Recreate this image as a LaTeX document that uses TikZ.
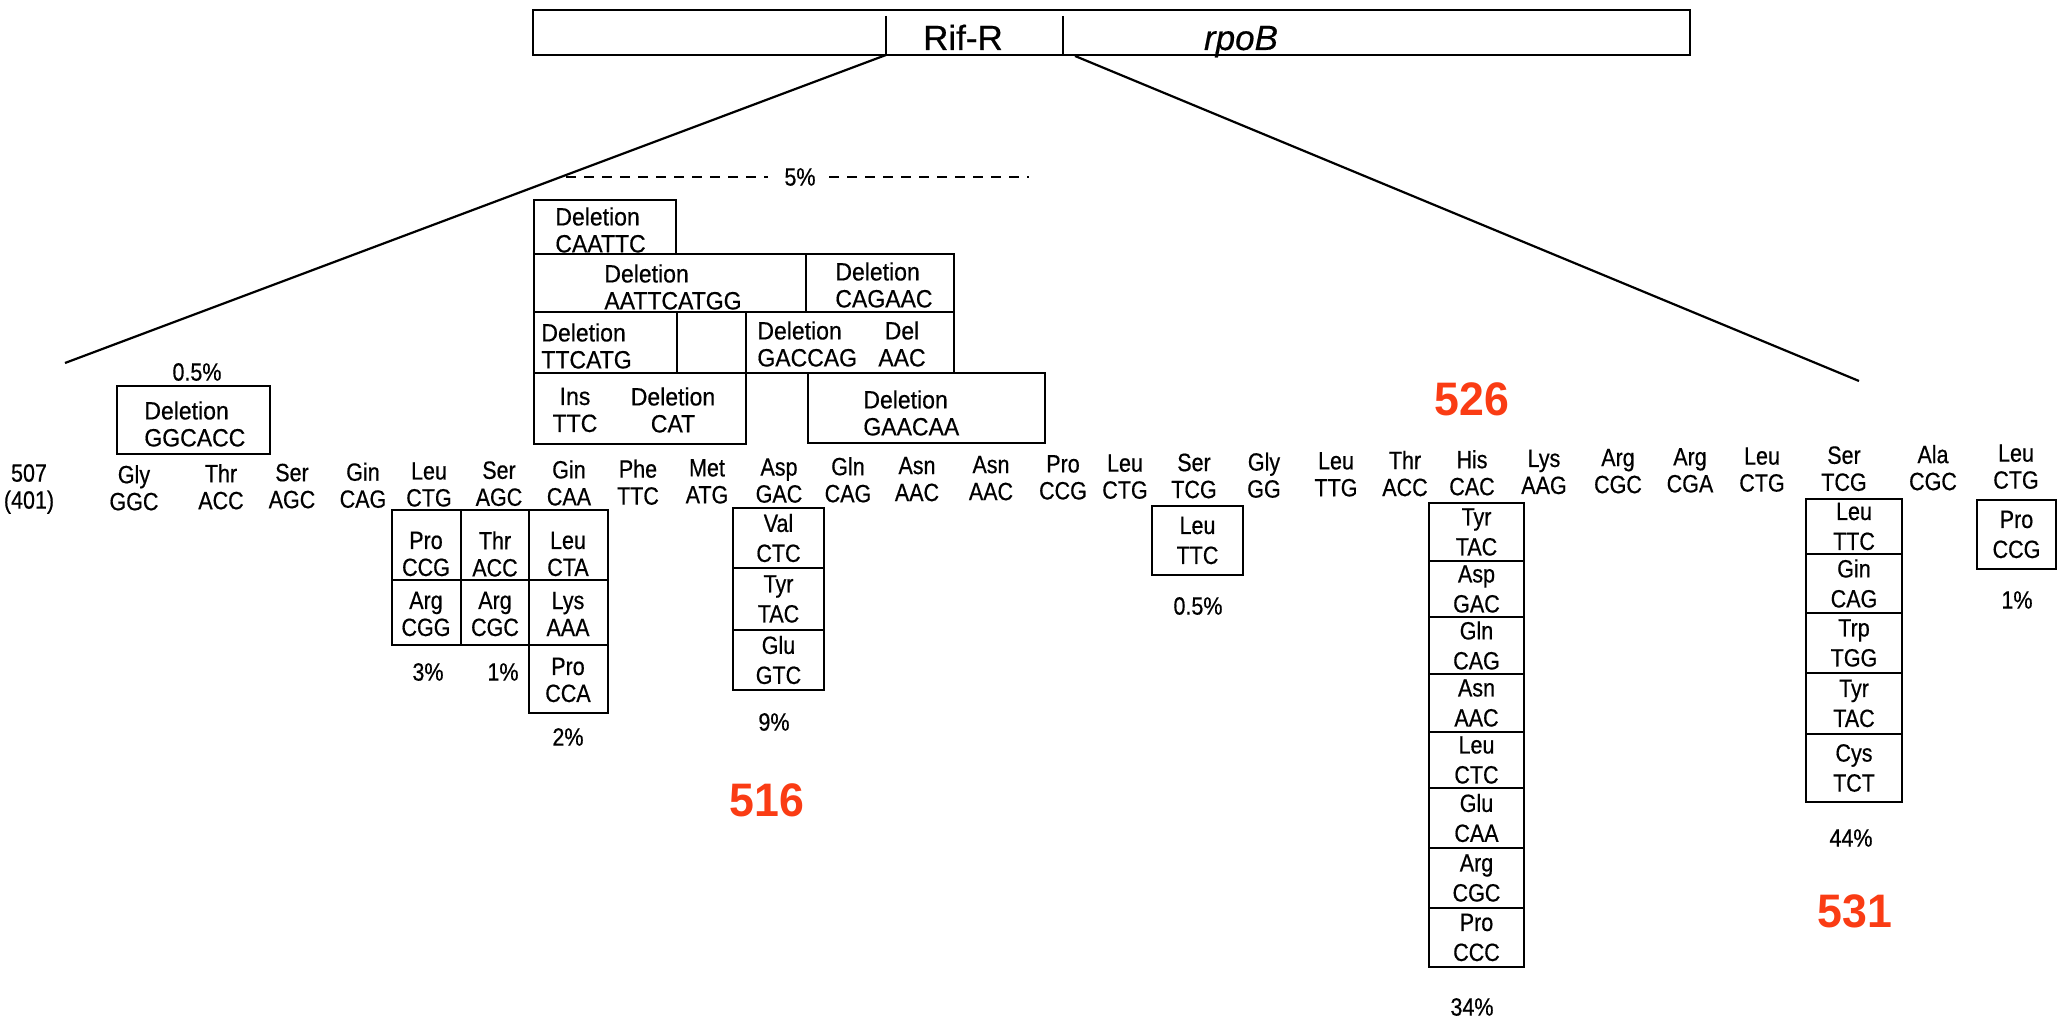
\documentclass[tikz,border=0pt]{standalone}
\usepackage{fontspec}
\setmainfont{Liberation Sans}[FakeBold=0.4]
\newfontfamily\codonfam{Liberation Sans}[FakeStretch=0.86,FakeBold=0.5]
\newfontfamily\delfam{Liberation Sans}[FakeStretch=0.92,FakeBold=0.5]
\newfontfamily\redfam{Liberation Sans}[FakeStretch=0.95]
\definecolor{rednum}{RGB}{250,60,20}
\tikzset{
  lab/.style={font=\codonfam\fontsize{12.5}{13.5}\selectfont, align=center, inner sep=0pt},
  cell/.style={font=\codonfam\fontsize{12.5}{15}\selectfont, align=center, inner sep=0pt},
  lcell/.style={font=\codonfam\fontsize{12.5}{13.5}\selectfont, align=center, inner sep=0pt},
  dlab/.style={font=\delfam\fontsize{12.5}{13.5}\selectfont, align=left, inner sep=0pt, anchor=west},
  dlabc/.style={font=\delfam\fontsize{12.5}{13.5}\selectfont, align=center, inner sep=0pt},
  pct/.style={font=\codonfam\fontsize{12.5}{14}\selectfont, inner sep=0pt},
  rnum/.style={font=\redfam\bfseries\fontsize{23.5}{26}\selectfont, text=rednum, inner sep=0pt},
  barlab/.style={font=\fontsize{17.5}{20}\selectfont, inner sep=0pt, anchor=base},
  boxl/.style={line width=1.2pt},
  diag/.style={line width=1.1pt},
  dashl/.style={line width=0.9pt, dash pattern=on 5pt off 4pt}
}
\newcommand\mcell[6]{%
  \draw[boxl] (#2,#3) rectangle (#4,#5);
  \node[cell] (#1) at ({(#2+#4)/2},{(#3+#5)/2}) {#6};}
\begin{document}
\begin{tikzpicture}[x=0.5pt,y=-0.5pt]
\fill[white] (0,0) rectangle (2063,1020);
\useasboundingbox (0,0) rectangle (2063,1020);

% top bar
\draw[boxl] (533,10) rectangle (1690,55);
\draw[boxl] (886,16) -- (886,55);
\draw[boxl] (1063,16) -- (1063,55);
\node[barlab] (rif) at (963,50) {Rif-R};
\node[barlab] (rpo) at (1241,50) {\itshape rpoB};

% connectors
\coordinate (barL) at (886,55);
\coordinate (barR) at (1075,56);
\coordinate (endL) at (65,363);
\coordinate (endR) at (1859,381);
\draw[diag] (barL) -- (endL);
\draw[diag] (barR) -- (endR);

% 5% dashed
\node[pct] (p5) at (800,177) {5\%};
\coordinate (dA) at (566,177);
\coordinate (dB) at (768,177);
\coordinate (dC) at (829,177);
\coordinate (dD) at (1029,177);
\draw[dashl] (dA) -- (dB);
\draw[dashl] (dC) -- (dD);

% deletion boxes
\draw[boxl] (534,200) rectangle (676,254);
\draw[boxl] (534,254) rectangle (806,312);
\draw[boxl] (806,254) rectangle (954,312);
\draw[boxl] (534,312) rectangle (677,373);
\draw[boxl] (677,312) rectangle (746,373);
\draw[boxl] (746,312) rectangle (954,373);
\draw[boxl] (534,373) rectangle (746,444);
\draw[boxl] (808,373) rectangle (1045,443);
\draw[boxl] (117,386) rectangle (270,454);

\node[dlab] (d1) at (555,230) {Deletion\\CAATTC};
\node[dlab] (d2) at (604,287) {Deletion\\AATTCATGG};
\node[dlab] (d3) at (835,285) {Deletion\\CAGAAC};
\node[dlab] (d4) at (541,346) {Deletion\\TTCATG};
\node[dlab] (d5) at (757,344) {Deletion\\GACCAG};
\node[dlabc] (d6) at (902,344) {Del\\AAC};
\node[dlabc] (d7) at (575,410) {Ins\\TTC};
\node[dlabc] (d8) at (673,410) {Deletion\\CAT};
\node[dlab] (d9) at (863,413) {Deletion\\GAACAA};
\node[dlab] (d0) at (144,424) {Deletion\\GGCACC};
\node[pct] (p05a) at (197,372) {0.5\%};

% codon row
\foreach \x/\y/\a/\c [count=\i] in {
  29/489.0/507/{(401)},
  134/487.8/Gly/GGC,
  221/486.8/Thr/ACC,
  292/486.1/Ser/AGC,
  363/485.3/Gin/CAG,
  429/484.5/Leu/CTG,
  499/483.7/Ser/AGC,
  569/483.0/Gin/CAA,
  638/482.2/Phe/TTC,
  707/481.4/Met/ATG,
  779/480.6/Asp/GAC,
  848/479.8/Gln/CAG,
  917/479.1/Asn/AAC,
  991/478.2/Asn/AAC,
  1063/477.4/Pro/CCG,
  1125/476.7/Leu/CTG,
  1194/476.0/Ser/TCG,
  1264/475.2/Gly/GG,
  1336/474.4/Leu/TTG,
  1405/473.6/Thr/ACC,
  1472/472.8/His/CAC,
  1544/472.0/Lys/AAG,
  1618/471.2/Arg/CGC,
  1690/470.4/Arg/CGA,
  1762/469.6/Leu/CTG,
  1844/468.7/Ser/TCG,
  1933/467.7/Ala/CGC,
  2016/466.7/Leu/CTG}
  \node[lab] (c\i) at (\x,\y) {\a\\\c};

% left group of mutations
\draw[boxl] (392,510) rectangle (461,580);
\draw[boxl] (392,580) rectangle (461,645);
\draw[boxl] (461,510) rectangle (529,580);
\draw[boxl] (461,580) rectangle (529,645);
\draw[boxl] (529,510) rectangle (608,580);
\draw[boxl] (529,580) rectangle (608,645);
\draw[boxl] (529,645) rectangle (608,713);
\node[lcell] (m1) at (426,554) {Pro\\CCG};
\node[lcell] (m2) at (426,614) {Arg\\CGG};
\node[lcell] (m3) at (495,554) {Thr\\ACC};
\node[lcell] (m4) at (495,614) {Arg\\CGC};
\node[lcell] (m5) at (568,554) {Leu\\CTA};
\node[lcell] (m6) at (568,614) {Lys\\AAA};
\node[lcell] (m7) at (568,680) {Pro\\CCA};
\node[pct] (p3) at (428,672) {3\%};
\node[pct] (p1a) at (503,672) {1\%};
\node[pct] (p2) at (568,737) {2\%};

% Asp column
\mcell{a1}{733}{508}{824}{568}{Val\\CTC}
\mcell{a2}{733}{568}{824}{630}{Tyr\\TAC}
\mcell{a3}{733}{630}{824}{690}{Glu\\GTC}
\node[pct] (p9) at (774,722) {9\%};

% Ser TCG (left)
\mcell{s1}{1152}{506}{1243}{575}{Leu\\TTC}
\node[pct] (p05b) at (1198,606) {0.5\%};

% His column
\mcell{h1}{1429}{503}{1524}{561}{Tyr\\TAC}
\mcell{h2}{1429}{561}{1524}{617}{Asp\\GAC}
\mcell{h3}{1429}{617}{1524}{674}{Gln\\CAG}
\mcell{h4}{1429}{674}{1524}{732}{Asn\\AAC}
\mcell{h5}{1429}{732}{1524}{788}{Leu\\CTC}
\mcell{h6}{1429}{788}{1524}{848}{Glu\\CAA}
\mcell{h7}{1429}{848}{1524}{908}{Arg\\CGC}
\mcell{h8}{1429}{908}{1524}{967}{Pro\\CCC}
\node[pct] (p34) at (1472,1007) {34\%};

% Ser column (right)
\mcell{t1}{1806}{499}{1902}{554}{Leu\\TTC}
\mcell{t2}{1806}{554}{1902}{613}{Gin\\CAG}
\mcell{t3}{1806}{613}{1902}{673}{Trp\\TGG}
\mcell{t4}{1806}{673}{1902}{734}{Tyr\\TAC}
\mcell{t5}{1806}{734}{1902}{802}{Cys\\TCT}
\node[pct] (p44) at (1851,838) {44\%};

% Leu CTG (far right)
\mcell{u1}{1977}{500}{2056}{569}{Pro\\CCG}
\node[pct] (p1b) at (2017,600) {1\%};

% red numbers
\node[rnum] (n526) at (1472,399) {526};
\node[rnum] (n516) at (767,800) {516};
\node[rnum] (n531) at (1855,911) {531};
\end{tikzpicture}
\end{document}
